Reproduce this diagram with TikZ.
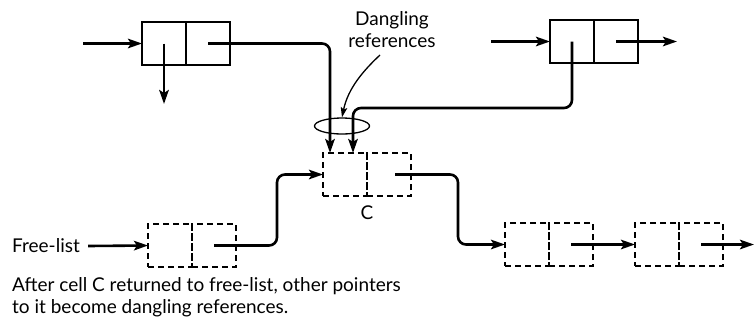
\documentclass[tikz,border=0pt]{standalone}
\usepackage{fontspec}
\setmainfont{Lato}
\usetikzlibrary{arrows.meta,shapes.geometric}
\begin{document}
\begin{tikzpicture}[x=1pt,y=-1pt,
  half/.style={draw, line width=1.4pt, minimum width=44pt, minimum height=43pt, inner sep=0pt, outer sep=0pt},
  freehalf/.style={half, line width=1.3pt, dash pattern=on 6pt off 4pt},
  ptr/.style={line width=2.6pt, rounded corners=8pt, -{Stealth[length=14pt,width=9.5pt,inset=3pt]}},
  note/.style={line width=1.3pt, -{Stealth[length=10pt,width=6.5pt,inset=2pt]}},
  txt/.style={font=\fontsize{19}{22}\selectfont, inner sep=0pt}
]
\useasboundingbox (0,0) rectangle (754,327);

% live cell with two pointers to it (top left)
\node[half] (a1) at (164,43.5) {};
\node[half] (a2) at (208,43.5) {};
% second live cell (top right)
\node[half] (b1) at (572,41.5) {};
\node[half] (b2) at (616,41.5) {};
% cell C, already returned to the free-list
\node[freehalf] (c1) at (345,174.5) {};
\node[freehalf] (c2) at (389,174.5) {};
\node[txt] (clab) at (367,213) {C};
% free-list cells
\node[freehalf] (f1) at (170,245.5) {};
\node[freehalf] (f2) at (214,245.5) {};
\node[freehalf] (d1) at (527,244.5) {};
\node[freehalf] (d2) at (571,244.5) {};
\node[freehalf] (e1) at (657,244.5) {};
\node[freehalf] (e2) at (701,244.5) {};

% free-list head
\node[txt, anchor=west] (fl) at (12,246) {Free-list};
\draw[ptr] ([xshift=8pt]fl.east) -- (f1.west);

% free ends of pointers
\coordinate (ain) at (83,43.5);
\coordinate (adown) at (164,104);
\coordinate (bin) at (491,41.5);
\coordinate (bout) at (677,41.5);
\coordinate (eout) at (754,244.5);

\draw[ptr] (ain) -- (a1.west);
\draw[ptr] (a1.center) -- (adown);
\draw[ptr] (bin) -- (b1.west);
\draw[ptr] (b2.center) -- (bout);

% dangling references into C
\draw[ptr] (a2.center) -| ([xshift=-15pt]c1.north);
\draw[ptr] (b1.center) -- (572,108) -| ([xshift=8pt]c1.north);

% free-list chain
\draw[ptr] (f2.center) -- (277,245.5) |- (c1.west);
\draw[ptr] ([xshift=6pt]c2.center) -- (458,174.5) |- (d1.west);
\draw[ptr] (d2.center) -- (e1.west);
\draw[ptr] (e2.center) -- (eout);

% grouping ellipse and its label
\node[draw, ellipse, line width=1.3pt, minimum width=55pt, minimum height=16pt, inner sep=0pt] (ell) at (342,126) {};
\node[txt, align=center] (dl) at (392,30) {Dangling\\references};
\draw[note] (380,55) .. controls (364,70) and (348,88) .. (ell.north);

% caption
\node[txt, anchor=north west, align=left] (cap) at (12,277) {After cell C returned to free-list, other pointers\\to it become dangling references.};
\end{tikzpicture}
\end{document}
